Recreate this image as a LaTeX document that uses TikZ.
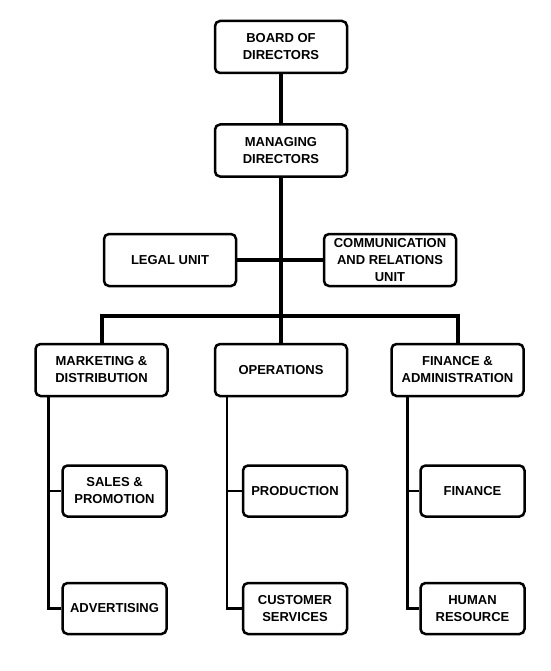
\documentclass[tikz,border=0pt]{standalone}
\usepackage{fontspec}
\setmainfont{Liberation Sans}
\usetikzlibrary{positioning}

\begin{document}
\begin{tikzpicture}[x=1pt,y=-1pt,node distance=49pt,
		main node/.style={rectangle,draw,rounded corners=5pt,line width=2.5pt,minimum width=132pt,minimum height=52pt,align=center,inner sep=2pt,font=\bfseries\fontsize{13}{17}\selectfont},
		sub node/.style={main node,minimum width=104pt,minimum height=51pt},
		trunk/.style={line width=4pt},
		branch/.style={line width=2.5pt}]
		
		\useasboundingbox (0,0) rectangle (550,671);
		
		\node[main node] (board) at (281,47) {BOARD OF\\DIRECTORS};
		\node[main node] (managing) [below=of board] {MANAGING\\DIRECTORS};
		\node[main node] (legal) [below=55pt of managing,xshift=-111pt] {LEGAL UNIT};
		\node[main node] (comm) [below=55pt of managing,xshift=109pt] {COMMUNICATION\\AND RELATIONS\\UNIT};
		
		\node[main node] (operations) [below=165pt of managing] {OPERATIONS};
		\node[main node] (marketing) [left=45pt of operations] {MARKETING \&\\DISTRIBUTION};
		\node[main node] (finadmin) [right=42pt of operations] {FINANCE \&\\ADMINISTRATION};
		
		\node[sub node] (sales) [below=67pt of marketing,xshift=13pt] {SALES \&\\PROMOTION};
		\node[sub node] (advert) [below=64pt of sales] {ADVERTISING};
		\node[sub node] (production) [below=67pt of operations,xshift=14pt] {PRODUCTION};
		\node[sub node] (custserv) [below=64pt of production] {CUSTOMER\\SERVICES};
		\node[sub node] (finance) [below=67pt of finadmin,xshift=15pt] {FINANCE};
		\node[sub node] (hr) [below=64pt of finance] {HUMAN\\RESOURCE};
		
		% top of the chart
		\coordinate (bar) at (0,316);
		\draw[trunk] (board) -- (managing);
		\draw[trunk] (managing.south) -- (operations.north);
		\draw[trunk] (legal) -- (comm);
		\draw[trunk] (marketing.north) -- (marketing |- bar) -- (finadmin |- bar) -- (finadmin.north);
		
		% departments
		\foreach \dept/\upper/\lower/\dx in {marketing/sales/advert/53,operations/production/custserv/54,finadmin/finance/hr/50}{
			\coordinate (\dept line) at ([xshift=-\dx pt]\dept.south);
			\draw[branch] (\dept line) |- (\lower.west);
			\draw[branch] (\dept line |- \upper.west) -- (\upper.west);
		}
		
\end{tikzpicture}
\end{document}
